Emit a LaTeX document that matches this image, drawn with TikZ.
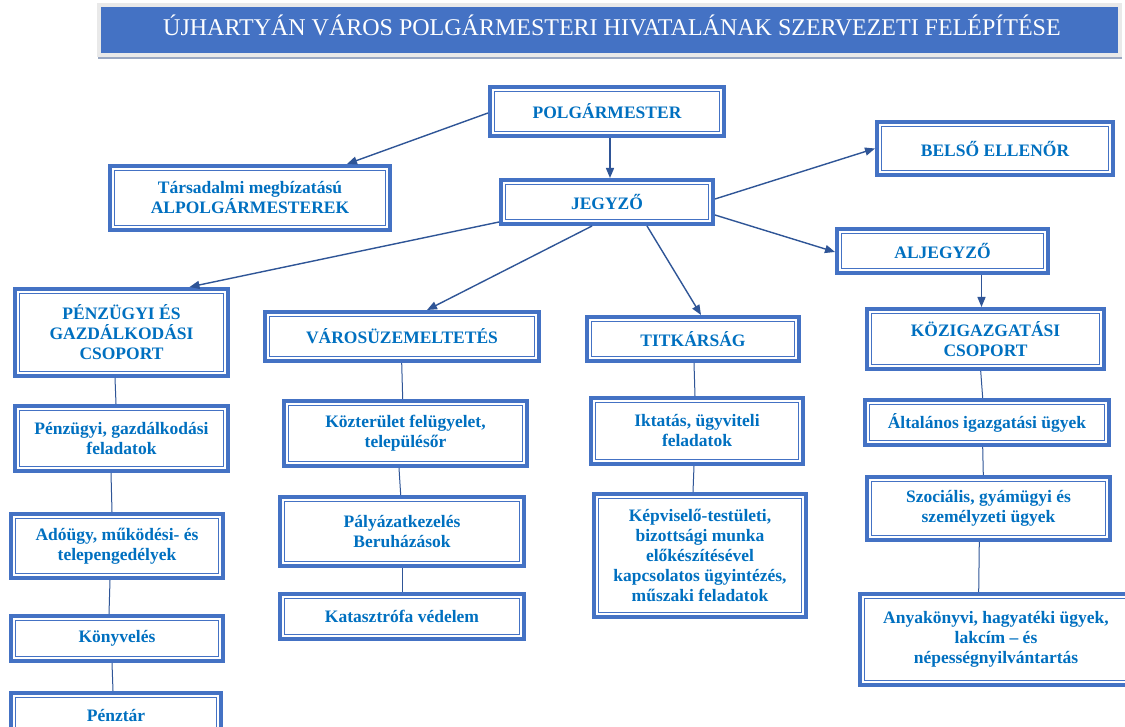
\documentclass[tikz,border=0pt]{standalone}
\usepackage{fontspec}
\setmainfont{Liberation Serif}
\usetikzlibrary{arrows.meta}
\definecolor{boxblue}{HTML}{4472C4}
\definecolor{textblue}{HTML}{0070C0}
\definecolor{linkblue}{HTML}{2F5597}
\definecolor{framegray}{HTML}{E9E9E9}
\definecolor{shadowgray}{HTML}{9AA8C2}
\tikzset{
  box/.style={draw=boxblue, line width=4pt, fill=white, text=textblue,
    font=\fontsize{17.5}{20}\selectfont\bfseries, align=center,
    inner sep=0pt, outer sep=2pt},
  innerframe/.style={draw=boxblue, line width=1pt},
  arrowlink/.style={draw=linkblue, line width=1.4pt, -{Triangle[length=10pt,width=8pt]}},
  plainlink/.style={draw=linkblue, line width=1pt},
  titletext/.style={text=white, font=\fontsize{24}{28}\selectfont, inner sep=0pt}
}
\begin{document}
\begin{tikzpicture}[x=1pt,y=-1pt]
\useasboundingbox (0,0) rectangle (1125,727);
\clip (0,0) rectangle (1125,727);
\fill[white] (0,0) rectangle (1125,727);
% title bar
\fill[framegray] (97,3) rectangle (1122,57);
\fill[boxblue] (101,7) rectangle (1118,53);
\draw[shadowgray, line width=2pt] (98,58.5) -- (1122,58.5);
\node[titletext, anchor=base] (title) at (612,36) {ÚJHARTYÁN VÁROS POLGÁRMESTERI HIVATALÁNAK SZERVEZETI FELÉPÍTÉSE};

% boxes
\node[box, minimum width=234pt, minimum height=49pt] (pm) at (607,111.5) {POLGÁRMESTER};
\node[box, minimum width=212pt, minimum height=44pt] (jegy) at (607,202) {JEGYZŐ};
\node[box, minimum width=280pt, minimum height=64pt] (tars) at (250,198) {Társadalmi megbízatású\\ALPOLGÁRMESTEREK};
\node[box, minimum width=236pt, minimum height=53pt] (belso) at (995,148.5) {BELSŐ ELLENŐR};
\node[box, minimum width=211pt, minimum height=44pt] (aljegy) at (942.5,251) {ALJEGYZŐ};
\node[box, minimum width=213pt, minimum height=87pt] (penz) at (121.5,332.5) {PÉNZÜGYI ÉS\\GAZDÁLKODÁSI\\CSOPORT};
\node[box, minimum width=274pt, minimum height=49pt] (varos) at (402,336.5) {VÁROSÜZEMELTETÉS};
\node[box, minimum width=212pt, minimum height=44pt] (titk) at (693,339) {TITKÁRSÁG};
\node[box, minimum width=237pt, minimum height=60pt] (kozig) at (985.5,339) {KÖZIGAZGATÁSI\\CSOPORT};
\node[box, minimum width=213pt, minimum height=65pt] (p1) at (121.5,438.5) {Pénzügyi, gazdálkodási\\feladatok};
\node[box, minimum width=212pt, minimum height=64pt] (p2) at (117,546) {Adóügy, működési- és\\telepengedélyek};
\node[box, minimum width=212pt, minimum height=45pt] (p3) at (117,638.5) {Könyvelés};
\node[box, minimum width=210pt, minimum height=45pt] (p4) at (116,715.5) {Pénztár};
\node[box, minimum width=243pt, minimum height=65pt] (v1) at (405.5,433.5) {Közterület felügyelet,\\településőr};
\node[box, minimum width=244pt, minimum height=69pt] (v2) at (402,531.5) {Pályázatkezelés\\Beruházások};
\node[box, minimum width=244pt, minimum height=45pt] (v3) at (402,616.5) {Katasztrófa védelem};
\node[box, minimum width=212pt, minimum height=66pt] (t1) at (697,431) {Iktatás, ügyviteli\\feladatok};
\node[box, minimum width=212pt, minimum height=123pt] (t2) at (700,555.5) {Képviselő-testületi,\\bizottsági munka\\előkészítésével\\kapcsolatos ügyintézés,\\műszaki feladatok};
\node[box, minimum width=244pt, minimum height=45pt] (k1) at (987,422.5) {Általános igazgatási ügyek};
\node[box, minimum width=243pt, minimum height=63pt] (k2) at (988.5,508.5) {Szociális, gyámügyi és\\személyzeti ügyek};
\node[box, minimum width=272pt, minimum height=91pt] (k3) at (996,639.5) {Anyakönyvi, hagyatéki ügyek,\\lakcím – és\\népességnyilvántartás};

% inner thin frames
\foreach \n in {pm,jegy,tars,belso,aljegy,penz,varos,titk,kozig,p1,p2,p3,p4,v1,v2,v3,t1,t2,k1,k2,k3}
  \draw[innerframe] ([shift={(6.5pt,-6.5pt)}]\n.north west) rectangle ([shift={(-6.5pt,6.5pt)}]\n.south east);

% arrows
\draw[arrowlink] ([yshift=-1.5pt]pm.west) -- ([xshift=97pt]tars.north);
\draw[arrowlink] ([xshift=3pt]pm.south) -- ([xshift=3pt]jegy.north);
\draw[arrowlink] ([yshift=3pt]jegy.east) -- (belso.west);
\draw[arrowlink] ([yshift=-13pt]jegy.east) -- ([yshift=-1pt]aljegy.west);
\draw[arrowlink] ([yshift=-20pt]jegy.west) -- ([xshift=68pt]penz.north);
\draw[arrowlink] ([xshift=-15pt]jegy.south) -- ([xshift=25pt]varos.north);
\draw[arrowlink] ([xshift=40pt]jegy.south) -- ([xshift=8pt]titk.north);
\draw[arrowlink] ([xshift=-4pt]kozig.north |- aljegy.south) -- ([xshift=-4pt]kozig.north);

% plain links
\draw[plainlink] ([xshift=-6.5pt]penz.south) -- ([xshift=-5.5pt]p1.north);
\draw[plainlink] ([xshift=-10.5pt]p1.south) -- ([xshift=-5pt]p2.north);
\draw[plainlink] ([xshift=-7pt]p2.south) -- ([xshift=-8pt]p3.north);
\draw[plainlink] ([xshift=-5pt]p3.south) -- ([xshift=-3pt]p4.north);
\draw[plainlink] ([xshift=-0.3pt]varos.south) -- ([xshift=-2.8pt]v1.north);
\draw[plainlink] ([xshift=-6.5pt]v1.south) -- ([xshift=-1.3pt]v2.north);
\draw[plainlink] ([xshift=0.7pt]v2.south) -- ([xshift=0.7pt]v3.north);
\draw[plainlink] ([xshift=1pt]titk.south) -- ([xshift=-2pt]t1.north);
\draw[plainlink] ([xshift=-3pt]t1.south) -- ([xshift=-7pt]t2.north);
\draw[plainlink] ([xshift=-4.8pt]kozig.south) -- ([xshift=-4.3pt]k1.north);
\draw[plainlink] ([xshift=-4.3pt]k1.south) -- ([xshift=-5.2pt]k2.north);
\draw[plainlink] ([xshift=-9.2pt]k2.south) -- ([xshift=-17.3pt]k3.north);
\end{tikzpicture}
\end{document}
